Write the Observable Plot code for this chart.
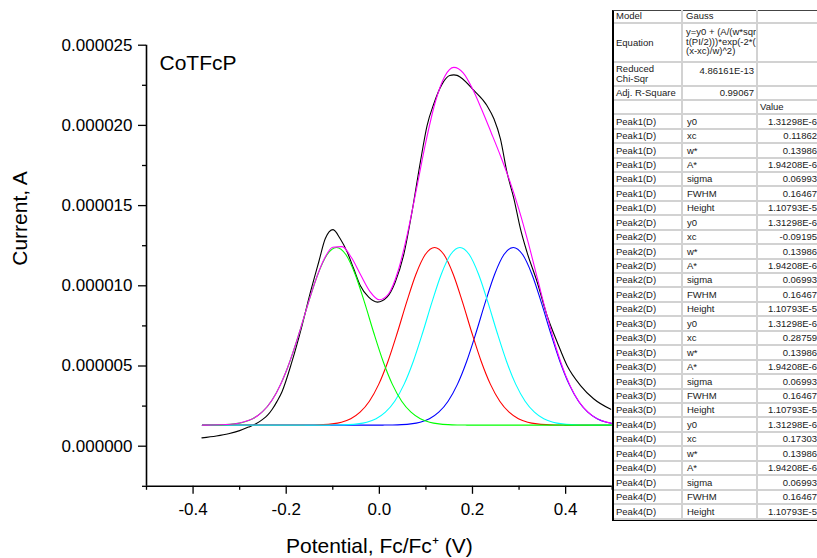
<!DOCTYPE html>
<html><head><meta charset="utf-8">
<script src="https://cdn.jsdelivr.net/npm/d3@7"></script>
<script src="https://cdn.jsdelivr.net/npm/@observablehq/plot@0.6"></script>
<style>
html,body{margin:0;padding:0;background:#fff;}
#wrap{position:relative;width:817px;height:558px;overflow:hidden;font-family:"Liberation Sans",Arial,sans-serif;}
#tbl{position:absolute;left:612px;top:10px;width:230px;height:511px;background:#fff;box-sizing:border-box;border-left:2px solid #000;border-top:1px solid #444;border-bottom:2px solid #000;}
.cell{position:absolute;box-sizing:border-box;font-size:9.5px;color:#1a1a1a;white-space:pre;overflow:hidden;display:flex;align-items:center;border-right:2px solid #d2d2d2;border-bottom:2px solid #d2d2d2;line-height:9.6px;}
</style></head><body><div id="wrap"></div>
<script>
// ---- data (current values in microamperes; axis labels show amperes) ----
const xMajorTicks = [-0.4, -0.2, 0.0, 0.2, 0.4];
const xTickLabels = ["-0.4", "-0.2", "0.0", "0.2", "0.4"];
const xMinorTicks = [-0.5, -0.3, -0.1, 0.1, 0.3, 0.5];
const yMajorTicks = [0, 5, 10, 15, 20, 25];
const yTickLabels = ["0.000000", "0.000005", "0.000010", "0.000015", "0.000020", "0.000025"];
const yMinorTicks = [-2.5, 2.5, 7.5, 12.5, 17.5, 22.5];

// measured voltammogram (black)
const blackX = [-0.381,-0.35,-0.324,-0.30,-0.281,-0.265,-0.252,-0.240,-0.230,-0.220,-0.209,-0.188,-0.166,-0.148,-0.130,-0.116,-0.0995,-0.084,-0.069,-0.055,-0.041,-0.023,-0.004,0.0165,0.034,0.052,0.070,0.088,0.1025,0.117,0.135,0.151,0.160,0.167,0.174,0.203,0.231,0.246,0.260,0.274,0.289,0.303,0.317,0.339,0.360,0.382,0.403,0.432,0.460,0.497];
const blackY = [0.52,0.64,0.78,0.97,1.19,1.40,1.64,1.93,2.30,2.78,3.40,5.24,7.52,9.60,11.5,12.95,13.5,12.93,12.10,11.06,10.02,9.29,8.98,9.29,10.22,11.89,14.59,17.71,19.99,21.35,22.59,23.11,23.15,23.12,23.0,22.18,21.24,20.41,19.16,17.08,15.42,13.55,12.10,10.22,8.15,6.48,5.03,3.78,2.96,2.3];

// cumulative fit (magenta)
const fitX = [-0.38,-0.36,-0.34,-0.32,-0.30,-0.28,-0.26,-0.24,-0.22,-0.20,-0.18,-0.16,-0.14,-0.12,-0.10,-0.08,-0.06,-0.04,-0.02,0.00,0.02,0.04,0.06,0.08,0.10,0.12,0.14,0.16,0.18,0.20,0.22,0.24,0.26,0.28,0.30,0.32,0.34,0.36,0.38,0.40,0.42,0.44,0.46,0.48,0.50];
const fitY = [1.315,1.320,1.334,1.367,1.446,1.611,1.930,2.491,3.385,4.671,6.329,8.218,10.075,11.571,12.408,12.444,11.761,10.673,9.640,9.130,9.506,10.906,13.212,16.072,18.987,21.442,23.036,23.615,23.273,22.286,20.974,19.562,18.111,16.539,14.734,12.656,10.394,8.135,6.089,4.417,3.181,2.352,1.845,1.565,1.423];

// Peak2 (green), xc = -0.09195
const greenX = [-0.38,-0.372,-0.352,-0.332,-0.312,-0.292,-0.272,-0.252,-0.232,-0.212,-0.192,-0.172,-0.152,-0.132,-0.112,-0.092,-0.072,-0.052,-0.032,-0.012,0.008,0.028,0.048,0.068,0.088,0.108,0.128,0.148,0.168,0.188,0.208,0.50];
const greenY = [1.315,1.317,1.324,1.344,1.392,1.498,1.716,2.122,2.806,3.854,5.298,7.072,8.980,10.720,11.948,12.392,11.948,10.720,8.980,7.072,5.298,3.854,2.806,2.122,1.716,1.498,1.392,1.344,1.324,1.317,1.314,1.313];

// Peak1 (red), xc = 0.11862
const redX = [-0.38,-0.1814,-0.1614,-0.1414,-0.1214,-0.1014,-0.0814,-0.0614,-0.0414,-0.0214,-0.0014,0.0186,0.0386,0.0586,0.0786,0.0986,0.1186,0.1386,0.1586,0.1786,0.1986,0.2186,0.2386,0.2586,0.2786,0.2986,0.3186,0.3386,0.3586,0.3786,0.3986,0.4186,0.50];
const redY = [1.313,1.314,1.317,1.324,1.344,1.392,1.498,1.716,2.122,2.806,3.854,5.298,7.072,8.980,10.720,11.948,12.392,11.948,10.720,8.980,7.072,5.298,3.854,2.806,2.122,1.716,1.498,1.392,1.344,1.324,1.317,1.314,1.313];

// Peak4 (cyan), xc = 0.17303
const cyanX = [-0.38,-0.127,-0.107,-0.087,-0.067,-0.047,-0.027,-0.007,0.013,0.033,0.053,0.073,0.093,0.113,0.133,0.153,0.173,0.193,0.213,0.233,0.253,0.273,0.293,0.313,0.333,0.353,0.373,0.393,0.413,0.433,0.453,0.473,0.50];
const cyanY = [1.313,1.314,1.317,1.324,1.344,1.392,1.498,1.716,2.122,2.806,3.854,5.298,7.072,8.980,10.720,11.948,12.392,11.948,10.720,8.980,7.072,5.298,3.854,2.806,2.122,1.716,1.498,1.392,1.344,1.324,1.317,1.314,1.313];

// Peak3 (blue), xc = 0.28759
const blueX = [-0.38,-0.0124,0.0076,0.0276,0.0476,0.0676,0.0876,0.1076,0.1276,0.1476,0.1676,0.1876,0.2076,0.2276,0.2476,0.2676,0.2876,0.3076,0.3276,0.3476,0.3676,0.3876,0.4076,0.4276,0.4476,0.4676,0.4876,0.50];
const blueY = [1.313,1.314,1.317,1.324,1.344,1.392,1.498,1.716,2.122,2.806,3.854,5.298,7.072,8.980,10.720,11.948,12.392,11.948,10.720,8.980,7.072,5.298,3.854,2.806,2.122,1.716,1.498,1.423];

// fit report table
const headerLabels = ["Model", "Equation", "Reduced\nChi-Sqr", "Adj. R-Square"];
const headerValues = ["Gauss", "y=y0 + (A/(w*sqr\nt(PI/2)))*exp(-2*(\n(x-xc)/w)^2)", "4.86161E-13", "0.99067"];
const valueHeader = "Value";
const peakNames = ["Peak1(D)", "Peak2(D)", "Peak3(D)", "Peak4(D)"];
const paramNames = ["y0", "xc", "w*", "A*", "sigma", "FWHM", "Height"];
const peak1Values = ["1.31298E-6", "0.11862", "0.13986", "1.94208E-6", "0.06993", "0.16467", "1.10793E-5"];
const peak2Values = ["1.31298E-6", "-0.09195", "0.13986", "1.94208E-6", "0.06993", "0.16467", "1.10793E-5"];
const peak3Values = ["1.31298E-6", "0.28759", "0.13986", "1.94208E-6", "0.06993", "0.16467", "1.10793E-5"];
const peak4Values = ["1.31298E-6", "0.17303", "0.13986", "1.94208E-6", "0.06993", "0.16467", "1.10793E-5"];

const sampleLabel = "CoTFcP";
const xTitle = "Potential, Fc/Fc\u207A (V)";
const yTitle = "Current, A";

// ---- chart ----
const toRows = (xs, ys) => xs.map((x, i) => ({x, y: ys[i]}));
const lineOpts = {x: "x", y: "y", curve: "monotone-x", strokeWidth: 1.1, clip: true};
const font = "Liberation Sans, Arial, sans-serif";

const chart = Plot.plot({
  width: 817, height: 558,
  marginLeft: 146, marginRight: 205.3, marginTop: 44.7, marginBottom: 72.2,
  style: {fontFamily: font, fontSize: "17px", background: "white", color: "black", overflow: "visible"},
  x: {domain: [-0.5, 0.5]},
  y: {domain: [-2.5, 25]},
  marks: [
    Plot.axisX({ticks: xMinorTicks, tickSize: 4, tickFormat: () => "", label: null, strokeWidth: 1.3}),
    Plot.axisX({ticks: xMajorTicks, tickSize: 8, tickPadding: 9, tickFormat: d => xTickLabels[xMajorTicks.indexOf(d)], label: null, strokeWidth: 1.3, fontSize: 17}),
    Plot.axisY({ticks: yMinorTicks, tickSize: 4, tickFormat: () => "", label: null, strokeWidth: 1.3}),
    Plot.axisY({ticks: yMajorTicks, tickSize: 8, tickPadding: 6, tickFormat: d => yTickLabels[yMajorTicks.indexOf(d)], label: null, strokeWidth: 1.3, fontSize: 17}),
    Plot.ruleX([-0.5], {strokeWidth: 1.6}),
    Plot.ruleY([-2.5], {strokeWidth: 1.6}),
    Plot.line(toRows(blackX, blackY), {...lineOpts, stroke: "#000000"}),
    Plot.line(toRows(blueX, blueY), {...lineOpts, stroke: "#0000ff"}),
    Plot.line(toRows(redX, redY), {...lineOpts, stroke: "#ff0000"}),
    Plot.line(toRows(cyanX, cyanY), {...lineOpts, stroke: "#00ffff"}),
    Plot.line(toRows(greenX, greenY), {...lineOpts, stroke: "#00ff00"}),
    Plot.line(toRows(fitX, fitY), {...lineOpts, stroke: "#ff00ff"}),
    Plot.text([sampleLabel], {text: d => d, frameAnchor: "top-left", textAnchor: "start", lineAnchor: "middle", dx: 13, dy: 17.6, fontSize: 21}),
    Plot.text([yTitle], {text: d => d, frameAnchor: "left", rotate: -90, lineAnchor: "middle", dx: -126, fontSize: 21}),
    Plot.text([xTitle], {text: d => d, frameAnchor: "bottom", lineAnchor: "middle", dy: 59.5, fontSize: 21})
  ]
});

const wrap = document.getElementById("wrap");
wrap.appendChild(chart);

// ---- table overlay ----
const tbl = document.createElement("div");
tbl.id = "tbl";
wrap.appendChild(tbl);
const colLeft = [0, 69, 144];
const colWidth = [69, 75, 90];
const headerHeights = [14.3, 38.4, 24, 14.3, 14.2];
const peakRowHeight = 14.44;

function addCell(col, y, h, text, opts = {}) {
  const c = document.createElement("div");
  c.className = "cell";
  c.style.left = colLeft[col] + "px";
  c.style.top = y + "px";
  c.style.width = colWidth[col] + "px";
  c.style.height = h + "px";
  c.style.justifyContent = opts.right ? "flex-end" : "flex-start";
  if (opts.alignTop) { c.style.alignItems = "flex-start"; c.style.paddingTop = "3px"; }
  c.style.paddingLeft = (opts.padL ?? 3) + "px";
  c.style.paddingRight = (opts.padR ?? 2) + "px";
  c.textContent = text;
  tbl.appendChild(c);
}
let rowTop = -1;
headerLabels.forEach((lab, i) => {
  const h = headerHeights[i];
  addCell(0, rowTop, h, lab, {padL: 2});
  addCell(1, rowTop, h, headerValues[i], {right: i >= 2, alignTop: i === 1 || i === 2, padL: 3, padR: 2});
  addCell(2, rowTop, h, "");
  rowTop += h;
});
addCell(0, rowTop, headerHeights[4], "");
addCell(1, rowTop, headerHeights[4], "");
addCell(2, rowTop, headerHeights[4], valueHeader, {padL: 2});
rowTop += headerHeights[4];
const allValues = [peak1Values, peak2Values, peak3Values, peak4Values];
peakNames.forEach((p, pi) => {
  paramNames.forEach((pn, j) => {
    addCell(0, rowTop, peakRowHeight, p, {padL: 2});
    addCell(1, rowTop, peakRowHeight, pn, {padL: 4});
    addCell(2, rowTop, peakRowHeight, allValues[pi][j], {right: true, padR: 29});
    rowTop += peakRowHeight;
  });
});
</script></body></html>
